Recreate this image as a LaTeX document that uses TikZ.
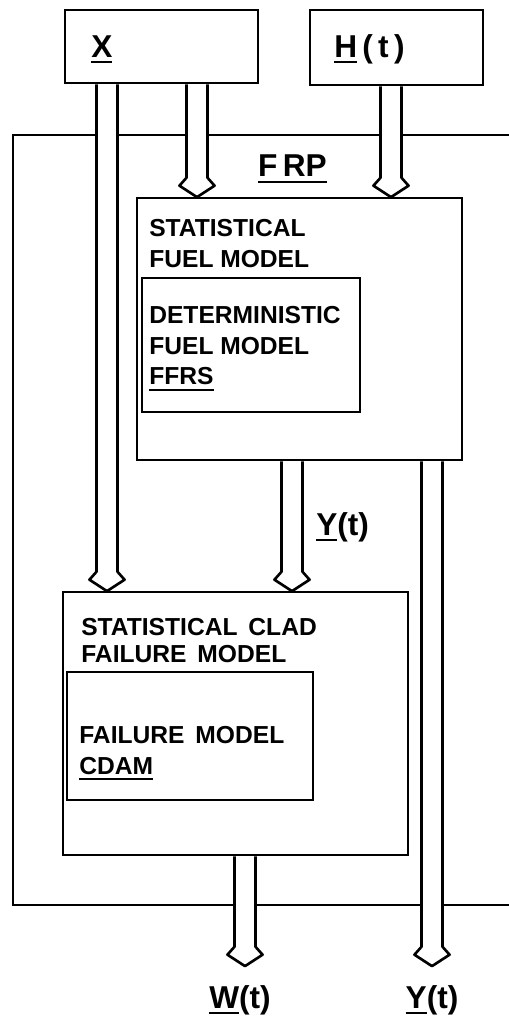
\documentclass[tikz,border=0pt]{standalone}
\usepackage{fontspec}
\setmainfont{Liberation Sans}
\usepackage{tikz}
\usetikzlibrary{calc, positioning}

\newcommand{\undl}[1]{\setbox0=\hbox{#1}\rlap{\rule[-3.4pt]{\wd0}{1.2pt}}\box0}

\begin{document}
\begin{tikzpicture}[x=0.02cm, y=-0.02cm, line width=1.5pt,
    box/.style={rectangle, draw, inner sep=0pt, outer sep=0pt, anchor=north west},
    txt/.style={inner sep=0pt, align=left, font=\bfseries\fontsize{14}{17.5}\selectfont},
    lbl/.style={inner sep=0pt, font=\bfseries\fontsize{18}{20}\selectfont},
    fatarrow/.style={draw, fill=white, line join=round,
      to path={let \p1=(\tikztostart), \p2=(\tikztotarget) in
        (\x1-6pt,\y1-0.75pt) -- (\x1-6pt,\y2+11.5pt) -- (\x1-10pt,\y2+7pt) -- (\x1,\y2+0.5pt)
        -- (\x1+10pt,\y2+7pt) -- (\x1+6pt,\y2+11.5pt) -- (\x1+6pt,\y1-0.75pt)}}]
  \useasboundingbox (0,0) rectangle (509,1018);
  \clip (0,0) rectangle (509,1018);

  % FRP frame, open to the right
  \node[box, minimum width=10.6cm, minimum height=15.4cm] (frp) at (13,135) {};

  % inputs
  \node[box, minimum width=3.86cm, minimum height=1.46cm] (xin) at (65,10) {};
  \node[box, minimum width=3.46cm, minimum height=1.5cm] (hin) at (310,10) {};
  \node[lbl, below right=0.48cm and 0.5cm of xin.north west] (xlbl) {\undl{X}};
  \node[lbl, below right=0.46cm and 0.46cm of hin.north west] (hlbl) {\undl{H}\,(\,t\,)};

  % fuel model
  \node[box, minimum width=6.5cm, minimum height=5.24cm] (fuel) at (137,198) {};
  \node[box, minimum width=4.36cm, minimum height=2.68cm, below right=1.6cm and 0.1cm of fuel.north west] (ffrs) {};
  \node[txt, below right=0.4cm and 0.22cm of fuel.north west] (fueltxt) {STATISTICAL\\FUEL MODEL};
  \node[txt, below right=0.54cm and 0.12cm of ffrs.north west] (ffrstxt) {DETERMINISTIC\\FUEL MODEL\\\undl{FFRS}};
  \node[lbl, above=0.28cm of fuel.north, xshift=-0.14cm] (frplbl) {\undl{F\kern3pt RP}};

  % clad failure model
  \node[box, minimum width=6.9cm, minimum height=5.26cm] (clad) at (63,592) {};
  \node[box, minimum width=4.92cm, minimum height=2.56cm, below right=1.6cm and 0.08cm of clad.north west] (cdam) {};
  \node[txt, font=\bfseries\fontsize{14}{15.5}\selectfont, below right=0.5cm and 0.34cm of clad.north west] (cladtxt) {STATISTICAL\, CLAD\\FAILURE\, MODEL};
  \node[txt, below right=1.06cm and 0.22cm of cdam.north west] (cdamtxt) {FAILURE\, MODEL\\\undl{CDAM}};

  % arrow columns and free ends
  \coordinate (c1) at (107,0);
  \coordinate (c2) at (197,0);
  \coordinate (c3) at (391,0);
  \coordinate (c4) at (292,0);
  \coordinate (c5) at (432,0);
  \coordinate (c6) at (245,0);
  \coordinate (ytip) at (432,967);
  \coordinate (wtip) at (245,967);

  \draw[fatarrow] (xin.south -| c1) to (clad.north -| c1);
  \draw[fatarrow] (xin.south -| c2) to (fuel.north -| c2);
  \draw[fatarrow] (hin.south -| c3) to (fuel.north -| c3);
  \draw[fatarrow] (fuel.south -| c4) to (clad.north -| c4);
  \draw[fatarrow] (fuel.south -| c5) to (ytip);
  \draw[fatarrow] (clad.south -| c6) to (wtip);

  % outputs
  \node[lbl, anchor=base west] (ylbl) at (315,535) {\undl{Y}(t)};
  \node[lbl, below=0.34cm of wtip, xshift=-0.1cm] (wlbl) {\undl{W}(t)};
  \node[lbl, below=0.34cm of ytip] (youtlbl) {\undl{Y}(t)};
\end{tikzpicture}
\end{document}
